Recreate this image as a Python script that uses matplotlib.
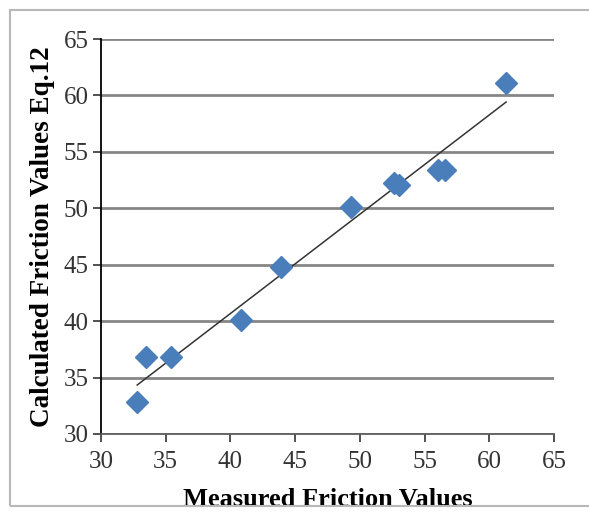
import numpy as np
import matplotlib
matplotlib.use('Agg')
import matplotlib.pyplot as plt
from matplotlib.patches import Rectangle

# measured vs calculated friction values
measured   = [32.8, 33.5, 35.4, 40.8, 43.9, 49.3, 52.6, 53.0, 56.0, 56.6, 61.3]
calculated = [32.8, 36.8, 36.8, 40.1, 44.8, 50.1, 52.2, 52.1, 53.4, 53.4, 61.1]
x_ticks = [30, 35, 40, 45, 50, 55, 60, 65]
y_ticks = [30, 35, 40, 45, 50, 55, 60, 65]

plt.rcParams['font.family'] = 'Liberation Serif'

fig = plt.figure(figsize=(5.89, 5.13), dpi=100)
ax = fig.add_axes([101/589, 1 - 434/513, 453/589, 395/513])

# outer chart frame
fig.patches.append(Rectangle((10/589, 1 - 506/513), 600/589, 496/513,
                             transform=fig.transFigure, fill=False,
                             edgecolor='#b8b8b8', linewidth=1.5))

ax.set_xlim(30, 65)
ax.set_ylim(30, 65)
ax.set_xticks(x_ticks)
ax.set_yticks(y_ticks)
ax.yaxis.grid(True, color='#868686', linewidth=2)
ax.set_axisbelow(True)
for s in ['top', 'right']:
  ax.spines[s].set_visible(False)
ax.spines['left'].set_linewidth(1.3)
ax.spines['bottom'].set_linewidth(1.3)
ax.spines['bottom'].set_color('#606060')
ax.tick_params(length=6, width=1.2, labelsize=18, colors='#333333')
ax.tick_params(axis='x', pad=6)
ax.tick_params(axis='y', pad=3)

# linear trendline
coef = np.polyfit(measured, calculated, 1)
xs = np.array([min(measured), max(measured)])
ax.plot(xs, np.polyval(coef, xs), color='#333333', linewidth=1.1, zorder=3)

ax.plot(measured, calculated, 'D', color='#4a7ebb', markersize=11,
        markeredgecolor='#4a7ebb', zorder=4, clip_on=False)

ax.set_xlabel('Measured Friction Values', fontsize=19, fontweight='bold', labelpad=11)
ax.set_ylabel('Calculated Friction Values Eq.12', fontsize=19.5, fontweight='bold', labelpad=6)

fig.savefig('out.png', dpi=100)
